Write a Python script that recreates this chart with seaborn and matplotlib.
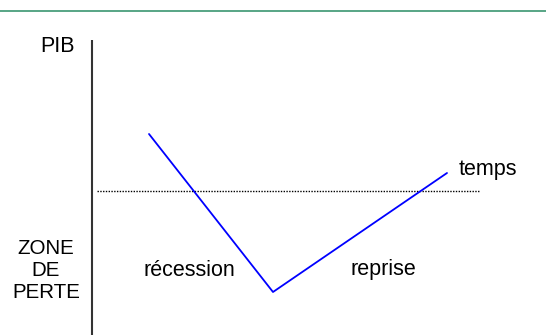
import matplotlib
matplotlib.use("Agg")
import matplotlib.pyplot as plt
import seaborn as sns

# schematic coordinates (pixel-like units, y grows downward)
temps = [149, 273, 447]
pib = [134, 292, 173]
seuil = 191

sns.set_style("white")
plt.rcParams['font.family'] = ['Liberation Sans', 'DejaVu Sans']

fig = plt.figure(figsize=(5.46, 3.35), dpi=100)
ax = fig.add_axes([0, 0, 1, 1])
ax.set_xlim(0, 546)
ax.set_ylim(335, 0)
ax.axis('off')

# top rule
ax.axhline(11, color='#4a9e7c', lw=1.3)
# vertical axis
ax.vlines(92, 40, 335, color='#333333', lw=1.5)
# threshold line
ax.hlines(seuil, 97, 479, color='black', lw=1, linestyles=(0, (1, 1)))

sns.lineplot(x=temps, y=pib, color='blue', lw=1.3, ax=ax)

fs = 15.5
ax.text(57, 46, "PIB", ha='center', va='center', fontsize=fs, color='black')
ax.text(488, 169, "temps", ha='center', va='center', fontsize=fs, color='black')
ax.text(46, 270, "ZONE\nDE\nPERTE", ha='center', va='center', fontsize=14.8,
        linespacing=1.2, color='black')
ax.text(189, 270, "récession", ha='center', va='center', fontsize=fs, color='black')
ax.text(383, 270, "reprise", ha='center', va='center', fontsize=fs, color='black')

fig.savefig("out.png", dpi=100)
